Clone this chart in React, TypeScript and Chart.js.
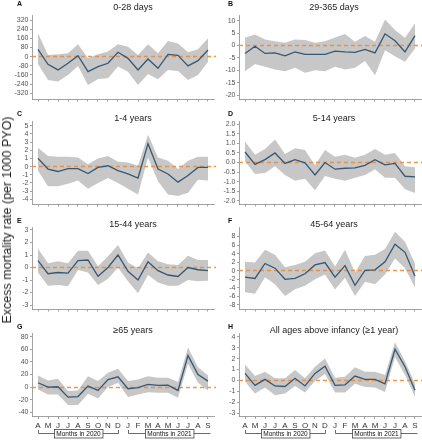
import React, { useEffect, useRef } from "react";
import { Chart, registerables } from "chart.js";

Chart.register(...registerables);

const FONT = "'Liberation Sans', Arial, Helvetica, sans-serif";
const LINE = "#375772";
const BAND = "rgb(199,199,199)";
const ORANGE = "rgba(234,140,60,0.9)";
const AXIS = "#8a8a8a";

// Months Apr 2020 .. Sep 2021
const months = ["A", "M", "J", "J", "A", "S", "O", "N", "D", "J", "F", "M", "A", "M", "J", "J", "A", "S"];

const bracketLabels = ["Months in 2020", "Months in 2021"];
const bracketFrom = [0, 9];
const bracketTo = [8, 17];
const bracketClosed = [true, false];

const yTitle = "Excess mortality rate (per 1000 PYO)";

// A: 0-28 days
const estA = [64, -67, -116, -58, 9, -131, -87, -58, 38, -15, -116, -20, -102, 20, 12, -81, -35, 58];
const hiA = [204, 15, 20, 29, 108, -15, 20, 44, 108, 87, 15, 108, 29, 137, 116, 38, 64, 160];
const loA = [-65, -204, -218, -160, -81, -247, -195, -189, -87, -131, -247, -151, -198, -116, -125, -204, -160, -44];
const ticksA = [-320, -240, -160, -80, 0, 80, 160, 240, 320];

// B: 29-365 days
const estB = [-3.2, -0.3, -3.2, -3, -4.2, -2.6, -3.6, -3.6, -3.6, -2.3, -2.6, -2.8, -1.6, -3, 4.7, 1.9, -2.6, 4];
const hiB = [3.1, 4.4, 2.4, 1.7, 1.1, 2.4, 2.2, 1.1, 1.7, 3.2, 4.6, 1.5, 3.8, 1.5, 10.5, 6.2, 3.1, 8.9];
const loB = [-10.4, -7.5, -8.6, -9.7, -10.4, -9, -11, -10, -10.4, -8.6, -9.7, -9, -6.3, -12, -1.9, -4.3, -6.6, -1.2];
const ticksB = [-20, -15, -10, -5, 0, 5, 10];

// C: 1-4 years
const estC = [1.0, -0.3, -0.6, -0.25, -0.25, -0.85, -0.1, 0.1, -0.5, -0.9, -1.4, 2.8, -0.3, -0.9, -1.9, -1.1, -0.1, -0.1];
const hiC = [2.3, 1.3, 1.2, 1.2, 1.1, 0.3, 1.0, 1.3, 0.6, 0.5, 0.1, 3.9, 1.1, 0.7, -0.3, 0.7, 1.2, 1.2];
const loC = [-0.5, -2.4, -2.4, -2.1, -1.7, -2.7, -2, -1.4, -2, -2.7, -3.4, 1.1, -1.8, -3.4, -3.6, -3.2, -1.6, -1.7];
const ticksC = [-4, -3, -2, -1, 0, 1, 2, 3, 4, 5];

// D: 5-14 years
const estD = [0.55, -0.1, 0.15, 0.5, -0.05, 0.15, -0.02, -0.65, 0, -0.35, -0.3, -0.28, -0.15, 0.15, -0.12, -0.05, -0.72, -0.75];
const hiD = [1.1, 0.4, 0.7, 1.2, 0.45, 0.75, 0.65, -0.15, 0.65, 0.3, 0.4, 0.25, 0.4, 0.7, 0.4, 0.5, -0.2, -0.25];
const loD = [0.05, -0.6, -0.55, -0.2, -0.65, -0.95, -0.85, -1.45, -0.7, -0.85, -0.95, -0.8, -0.65, -0.35, -0.8, -0.8, -1.4, -1.6];
const ticksD = [-2, -1.5, -1, -0.5, 0, 0.5, 1, 1.5, 2];

// E: 15-44 years
const estE = [0.55, -0.5, -0.4, -0.45, 0.55, 0.6, -0.7, 0, 1.0, -0.3, -1.0, 0.45, -0.25, -0.6, -0.72, 0, -0.18, -0.25];
const hiE = [1.5, 0.35, 0.5, 0.35, 1.35, 1.35, 0.1, 0.9, 1.8, 0.4, -0.05, 1.2, 0.5, 0.27, 0.2, 0.95, 0.6, 0.6];
const loE = [-0.4, -1.45, -1.4, -1.5, -0.2, -0.4, -1.4, -0.9, 0, -1.1, -2.05, -0.6, -1.2, -1.45, -1.45, -1.0, -1.1, -1.05];
const ticksE = [-3, -2, -1, 0, 1, 2, 3];

// F: 45-64 years
const estF = [-1.5, -1.8, 1.7, 0.6, -2.0, -1.8, -0.7, 1.35, 1.9, -1.5, 1.2, -3.4, 0.1, 0.2, 2.1, 6.2, 4.3, -1.3];
const hiF = [2.1, 1.9, 4.9, 3.75, 0.8, 1.35, 2.1, 4.1, 4.7, 1.0, 4.9, -0.4, 3.45, 3.75, 5.1, 9.1, 6.8, 1.7];
const loF = [-5.0, -5.4, -1.5, -3.15, -5.9, -4.3, -3.5, -2.0, -0.9, -4.4, -1.65, -5.9, -2.6, -3.15, -0.9, 2.85, 0.6, -3.9];
const ticksF = [-8, -6, -4, -2, 0, 2, 4, 6, 8];

// G: >=65 years
const estG = [6.9, 0, 0.5, -16, -15, 1.5, -5.3, 12, 16.4, -2.6, -1, 4.2, 2.6, 3.2, -5.3, 50, 20, 9.5];
const hiG = [18.5, 10.6, 13.2, -6.3, -5.3, 17.4, 9.5, 22.7, 29, 9.5, 12, 17.4, 14.8, 14.8, 8, 63, 31.7, 18.5];
const loG = [-3.7, -11.6, -11.6, -28.5, -28.5, -10.6, -18, 0, 6.9, -15.9, -11.6, -8, -9, -9, -17, 37, 6.9, -5.3];
const ticksG = [-40, -20, 0, 20, 40, 60, 80];

// H: all ages above infancy
const estH = [0.65, -0.45, 0.1, -0.5, -0.55, 0.2, -0.5, 0.65, 1.3, -0.45, -0.4, 0.4, 0.1, 0.1, -0.3, 2.85, 1.25, -0.9];
const hiH = [1.45, 0.4, 0.8, 0.2, 0.2, 0.95, 0.2, 1.25, 2.0, 0.25, 0.35, 1.2, 0.8, 0.8, 0.5, 3.5, 1.75, -0.3];
const loH = [-0.1, -1.2, -0.65, -1.35, -1.2, -0.5, -1.1, -0.05, 0.6, -1.1, -1.1, -0.3, -0.6, -0.65, -1.05, 2.15, 0.5, -1.5];
const ticksH = [-3, -2, -1, 0, 1, 2, 3, 4];

type PanelCfg = {
  letter: string;
  title: string;
  est: number[];
  hi: number[];
  lo: number[];
  ticks: number[];
  min: number;
  max: number;
  dec: number;
  col: number;
  row: number;
};

const panels: PanelCfg[] = [
  { letter: "A", title: "0-28 days", est: estA, hi: hiA, lo: loA, ticks: ticksA, min: -370, max: 364, dec: 0, col: 0, row: 0 },
  { letter: "B", title: "29-365 days", est: estB, hi: hiB, lo: loB, ticks: ticksB, min: -21.6, max: 12.3, dec: 0, col: 1, row: 0 },
  { letter: "C", title: "1-4 years", est: estC, hi: hiC, lo: loC, ticks: ticksC, min: -4.57, max: 5.57, dec: 0, col: 0, row: 1 },
  { letter: "D", title: "5-14 years", est: estD, hi: hiD, lo: loD, ticks: ticksD, min: -2.17, max: 2.17, dec: 1, col: 1, row: 1 },
  { letter: "E", title: "15-44 years", est: estE, hi: hiE, lo: loE, ticks: ticksE, min: -3.32, max: 3.2, dec: 0, col: 0, row: 2 },
  { letter: "F", title: "45-64 years", est: estF, hi: hiF, lo: loF, ticks: ticksF, min: -8.94, max: 10.1, dec: 0, col: 1, row: 2 },
  { letter: "G", title: "\u226565 years", est: estG, hi: hiG, lo: loG, ticks: ticksG, min: -46.7, max: 85.1, dec: 0, col: 0, row: 3 },
  { letter: "H", title: "All ages above infancy (\u22651 year)", est: estH, hi: hiH, lo: loH, ticks: ticksH, min: -3.29, max: 4.29, dec: 0, col: 1, row: 3 },
];

// layout geometry
const COL_LEFT = [0, 211];
const COL_WIDTH = [217, 211];
const Y_AXIS_W = [32, 28];
const PAD_RIGHT = [3, 1];
const ROW_TOP = [0, 105, 210, 315];
const ROW_H = [105, 105, 105, 125];
const PAD_TOP = [15, 16, 17.5, 18.5];
const X_AXIS_H = [6, 6, 6, 23.5];
const LETTER_Y = [4, 9, 11, 12];
const TITLE_Y = [8, 14, 15, 16];
const TITLE_DX = [10, 4];
const LETTER_X = 17;

function Panel({ cfg }: { cfg: PanelCfg }) {
  const ref = useRef<HTMLCanvasElement>(null);
  const { col, row } = cfg;

  useEffect(() => {
    const canvas = ref.current;
    if (!canvas) return;

    const decor = {
      id: "decor",
      afterDatasetDraw(chart: any, args: any) {
        if (args.index !== 1) return;
        const { ctx, chartArea, scales } = chart;
        const y0 = Math.round(scales.y.getPixelForValue(0) - 0.5) + 0.5;
        ctx.save();
        ctx.strokeStyle = ORANGE;
        ctx.lineWidth = 1.3;
        ctx.setLineDash([4, 3]);
        ctx.beginPath();
        ctx.moveTo(chartArea.left, y0);
        ctx.lineTo(chartArea.right + 2, y0);
        ctx.stroke();
        ctx.restore();
      },
      afterDraw(chart: any) {
        const { ctx, chartArea } = chart;
        ctx.save();
        // panel letter
        ctx.fillStyle = "#111";
        ctx.font = `bold 7px ${FONT}`;
        ctx.textAlign = "left";
        ctx.textBaseline = "middle";
        ctx.fillText(cfg.letter, LETTER_X, LETTER_Y[row]);
        // title
        ctx.font = `9px ${FONT}`;
        ctx.fillStyle = "#222";
        ctx.textAlign = "center";
        const cx = (chartArea.left + chartArea.right) / 2 + TITLE_DX[col];
        ctx.fillText(cfg.title, cx, TITLE_Y[row]);
        // brackets under bottom row
        if (row === 3) {
          const xs = chart.scales.x;
          const yLine = Math.round(ROW_H[3] - 7) + 0.5;
          ctx.strokeStyle = "#444";
          ctx.lineWidth = 0.8;
          bracketLabels.forEach((lab, k) => {
            const x1 = Math.round(xs.getPixelForValue(bracketFrom[k])) + 0.5;
            const x2 = Math.round(xs.getPixelForValue(bracketTo[k]) + (bracketClosed[k] ? 0 : 2)) + 0.5;
            ctx.beginPath();
            ctx.moveTo(x1, yLine - 3.5);
            ctx.lineTo(x1, yLine);
            ctx.lineTo(x2, yLine);
            if (bracketClosed[k]) ctx.lineTo(x2, yLine - 3.5);
            ctx.stroke();
            ctx.font = `6.5px ${FONT}`;
            const tw = ctx.measureText(lab).width;
            const bw = tw + 4;
            const bh = 8.5;
            const bx = Math.round((x1 + x2) / 2 - bw / 2) + 0.5;
            const by = Math.round(yLine - bh / 2) + 0.5;
            ctx.fillStyle = "#fff";
            ctx.fillRect(bx, by, bw, bh);
            ctx.strokeRect(bx, by, bw, bh);
            ctx.fillStyle = "#111";
            ctx.textAlign = "center";
            ctx.textBaseline = "middle";
            ctx.fillText(lab, (x1 + x2) / 2, by + bh / 2 + 0.3);
          });
        }
        ctx.restore();
      },
    };

    const chart = new Chart(canvas, {
      type: "line",
      data: {
        datasets: [
          {
            data: cfg.est.map((y, i) => ({ x: i, y })),
            borderColor: LINE,
            borderWidth: 1.3,
            pointRadius: 0,
            fill: false,
            tension: 0,
          },
          {
            data: cfg.hi.map((y, i) => ({ x: i, y })),
            borderColor: "rgba(0,0,0,0)",
            borderWidth: 0,
            backgroundColor: BAND,
            pointRadius: 0,
            fill: "+1",
            tension: 0,
          },
          {
            data: cfg.lo.map((y, i) => ({ x: i, y })),
            borderColor: "rgba(0,0,0,0)",
            borderWidth: 0,
            pointRadius: 0,
            fill: false,
            tension: 0,
          },
        ],
      },
      options: {
        animation: false,
        responsive: false,
        maintainAspectRatio: false,
        events: [],
        layout: { padding: { top: PAD_TOP[row], right: PAD_RIGHT[col], bottom: 0, left: 0 } },
        plugins: {
          legend: { display: false },
          tooltip: { enabled: false },
          title: { display: false },
        },
        scales: {
          x: {
            type: "linear",
            min: -0.6,
            max: months.length - 0.4,
            afterBuildTicks: (s: any) => {
              s.ticks = months.map((_, i) => ({ value: i }));
            },
            afterFit: (s: any) => {
              s.height = X_AXIS_H[row];
            },
            ticks: {
              display: row === 3,
              autoSkip: false,
              maxRotation: 0,
              minRotation: 0,
              padding: 2,
              font: { size: 8, family: FONT },
              color: "#333",
              callback: (v: any) => months[Number(v)] ?? "",
            },
            grid: {
              display: true,
              drawOnChartArea: false,
              drawTicks: true,
              tickLength: 2.5,
              color: AXIS,
              lineWidth: 0.8,
            },
            border: { display: true, color: AXIS, width: 0.8 },
          },
          y: {
            type: "linear",
            min: cfg.min,
            max: cfg.max,
            afterBuildTicks: (s: any) => {
              s.ticks = cfg.ticks.map((v) => ({ value: v }));
            },
            afterFit: (s: any) => {
              s.width = Y_AXIS_W[col];
            },
            ticks: {
              autoSkip: false,
              padding: 1.5,
              font: { size: 7, family: FONT },
              color: "#555",
              callback: (v: any) => (cfg.dec ? Number(v).toFixed(cfg.dec) : String(v)),
            },
            grid: {
              display: true,
              drawOnChartArea: false,
              drawTicks: true,
              tickLength: 2,
              color: AXIS,
              lineWidth: 0.8,
            },
            border: { display: true, color: AXIS, width: 0.8 },
          },
        },
      } as any,
      plugins: [decor as any],
    });
    return () => chart.destroy();
  }, []);

  return (
    <canvas
      ref={ref}
      width={COL_WIDTH[col]}
      height={ROW_H[row]}
      style={{
        position: "absolute",
        left: COL_LEFT[col],
        top: ROW_TOP[row],
        width: COL_WIDTH[col],
        height: ROW_H[row],
      }}
    />
  );
}

export default function App() {
  return (
    <div
      style={{
        position: "absolute",
        left: 0,
        top: 0,
        width: 422,
        height: 440,
        background: "#fff",
        overflow: "hidden",
        fontFamily: FONT,
      }}
    >
      {panels.map((p) => (
        <Panel key={p.letter} cfg={p} />
      ))}
      <div
        style={{
          position: "absolute",
          left: 7,
          top: 220,
          transform: "translate(-50%, -50%) rotate(-90deg)",
          whiteSpace: "nowrap",
          fontSize: 12.5,
          color: "#222",
          fontFamily: FONT,
        }}
      >
        {yTitle}
      </div>
    </div>
  );
}
